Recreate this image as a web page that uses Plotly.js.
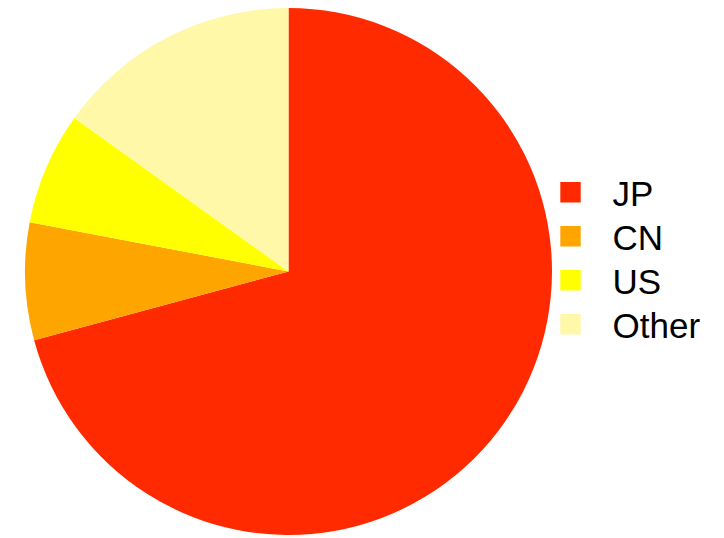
<!DOCTYPE html>
<html>
<head>
<meta charset="utf-8">
<script src="https://cdn.plot.ly/plotly-3.0.1.min.js"></script>
<style>
html,body{margin:0;padding:0;background:#fff;}
#chart{width:724px;height:538px;}
</style>
</head>
<body>
<div id="chart"></div>
<script>
var categories = ["JP", "CN", "US", "Other"];
var shares = [70.8, 7.2, 6.9, 15.1];
var sliceColors = ["#FF2A00", "#FFA500", "#FFFF00", "#FFF8A8"];

var trace = {
  type: "pie",
  labels: categories,
  values: shares,
  sort: false,
  direction: "clockwise",
  rotation: 0,
  textinfo: "none",
  hoverinfo: "label+percent",
  marker: {colors: sliceColors, line: {width: 0}},
  domain: {x: [25/724, 552/724], y: [3/538, 530/538]}
};

var layout = {
  width: 724,
  height: 538,
  margin: {l: 0, r: 0, t: 0, b: 0},
  paper_bgcolor: "#ffffff",
  showlegend: true,
  legend: {
    x: 0.73,
    xanchor: "left",
    y: 0.52,
    yanchor: "middle",
    itemwidth: 74,
    font: {family: "Liberation Sans, Arial, sans-serif", size: 35, color: "#000000"},
    bgcolor: "rgba(0,0,0,0)"
  }
};

Plotly.newPlot("chart", [trace], layout, {displayModeBar: false, staticPlot: true}).then(function(gd){
  var pts = gd.querySelectorAll(".legendpoints path");
  pts.forEach(function(p){
    var t = p.getAttribute("transform") || "";
    p.setAttribute("transform", t + " scale(1.7)");
  });
  // tighten row spacing to match reference (44px rows)
  var items = gd.querySelectorAll(".legend .traces");
  var n = items.length;
  var parsed = [];
  items.forEach(function(g){
    var m = /translate\(\s*([-\d.]+)[ ,]+([-\d.]+)\s*\)/.exec(g.getAttribute("transform") || "");
    parsed.push(m ? [parseFloat(m[1]), parseFloat(m[2])] : [0, 0]);
  });
  if (n > 1) {
    var mid = (parsed[0][1] + parsed[n-1][1]) / 2;
    var step = 44;
    items.forEach(function(g, i){
      var y = mid + (i - (n-1)/2) * step;
      g.setAttribute("transform", "translate(" + parsed[i][0] + "," + y + ")");
    });
  }
});
</script>
</body>
</html>
